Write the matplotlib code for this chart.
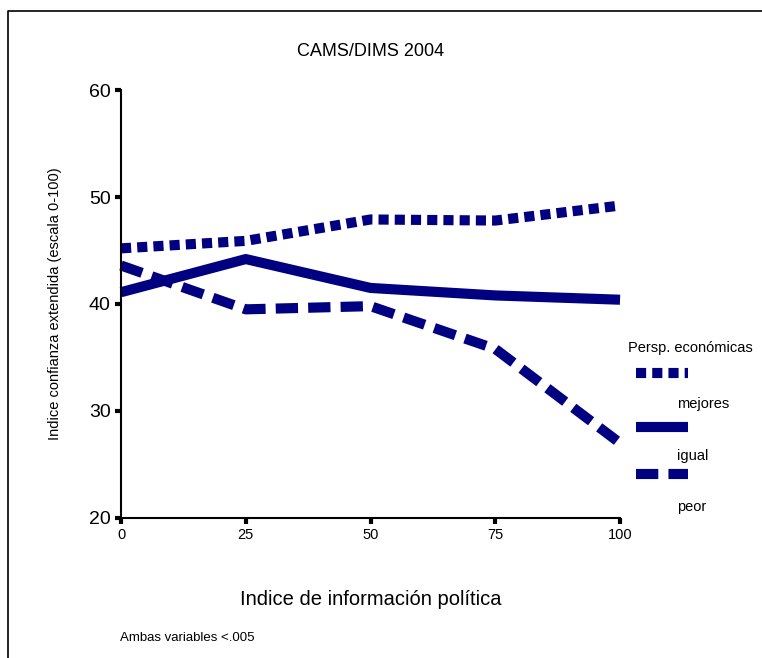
import matplotlib
matplotlib.use('Agg')
import matplotlib.pyplot as plt
from matplotlib.lines import Line2D

plt.rcParams['font.family'] = ['Liberation Sans', 'DejaVu Sans']

info = [0, 25, 50, 75, 100]
mejores = [45.2, 45.9, 47.9, 47.8, 49.2]
igual = [41.1, 44.2, 41.5, 40.8, 40.4]
peor = [43.6, 39.5, 39.8, 35.8, 27.0]
series_labels = ['mejores', 'igual', 'peor']
x_ticks = [0, 25, 50, 75, 100]
y_ticks = [20, 30, 40, 50, 60]

navy = '#000080'
lw = 7.3
styles = [(0, (1.0, 0.6)), '-', (0, (2.2, 1.0))]

fig = plt.figure(figsize=(7.62, 6.58), dpi=100)
ax = fig.add_axes([0.1588, 0.2128, 0.6549, 0.6504])

for vals, ls in zip([mejores, igual, peor], styles):
    ax.plot(info, vals, color=navy, lw=lw, linestyle=ls, solid_capstyle='butt',
            dash_capstyle='butt', clip_on=False)

ax.set_xlim(0, 100)
ax.set_ylim(20, 60)
ax.set_xticks(x_ticks)
ax.set_yticks(y_ticks)
ax.tick_params(axis='x', labelsize=10.5, direction='out', length=4, width=3)
ax.tick_params(axis='y', labelsize=14, direction='out', length=4, width=3)
for s in ['top', 'right']:
    ax.spines[s].set_visible(False)
for s in ['left', 'bottom']:
    ax.spines[s].set_linewidth(1.5)

ax.set_ylabel('Indice confianza extendida (escala 0-100)', fontsize=10.5, labelpad=19)
ax.set_xlabel('Indice de información política', fontsize=14.5, labelpad=34)

fig.text(0.486, 0.921, 'CAMS/DIMS 2004', fontsize=13, ha='center', va='center')
fig.text(0.158, 0.031, 'Ambas variables <.005', fontsize=9.5, ha='left', va='center')

# custom legend at right
fig.text(0.824, 0.471, 'Persp. económicas', fontsize=10.5, ha='left', va='center')
leg_y = [0.433, 0.351, 0.279]
txt_y = [0.386, 0.307, 0.230]
for ls, ly, ty, lab in zip(styles, leg_y, txt_y, series_labels):
    fig.add_artist(Line2D([0.835, 0.903], [ly, ly], transform=fig.transFigure,
                          color=navy, lw=lw, linestyle=ls, solid_capstyle='butt',
                          dash_capstyle='butt'))
    fig.text(0.889, ty, lab, fontsize=10.5, ha='left', va='center')

# outer frame (left and top only)
fig.add_artist(Line2D([0.0105, 0.0105, 1.0], [0.0, 0.983, 0.983],
                      transform=fig.transFigure, color='black', lw=1.2))

fig.savefig('out.png', dpi=100)
